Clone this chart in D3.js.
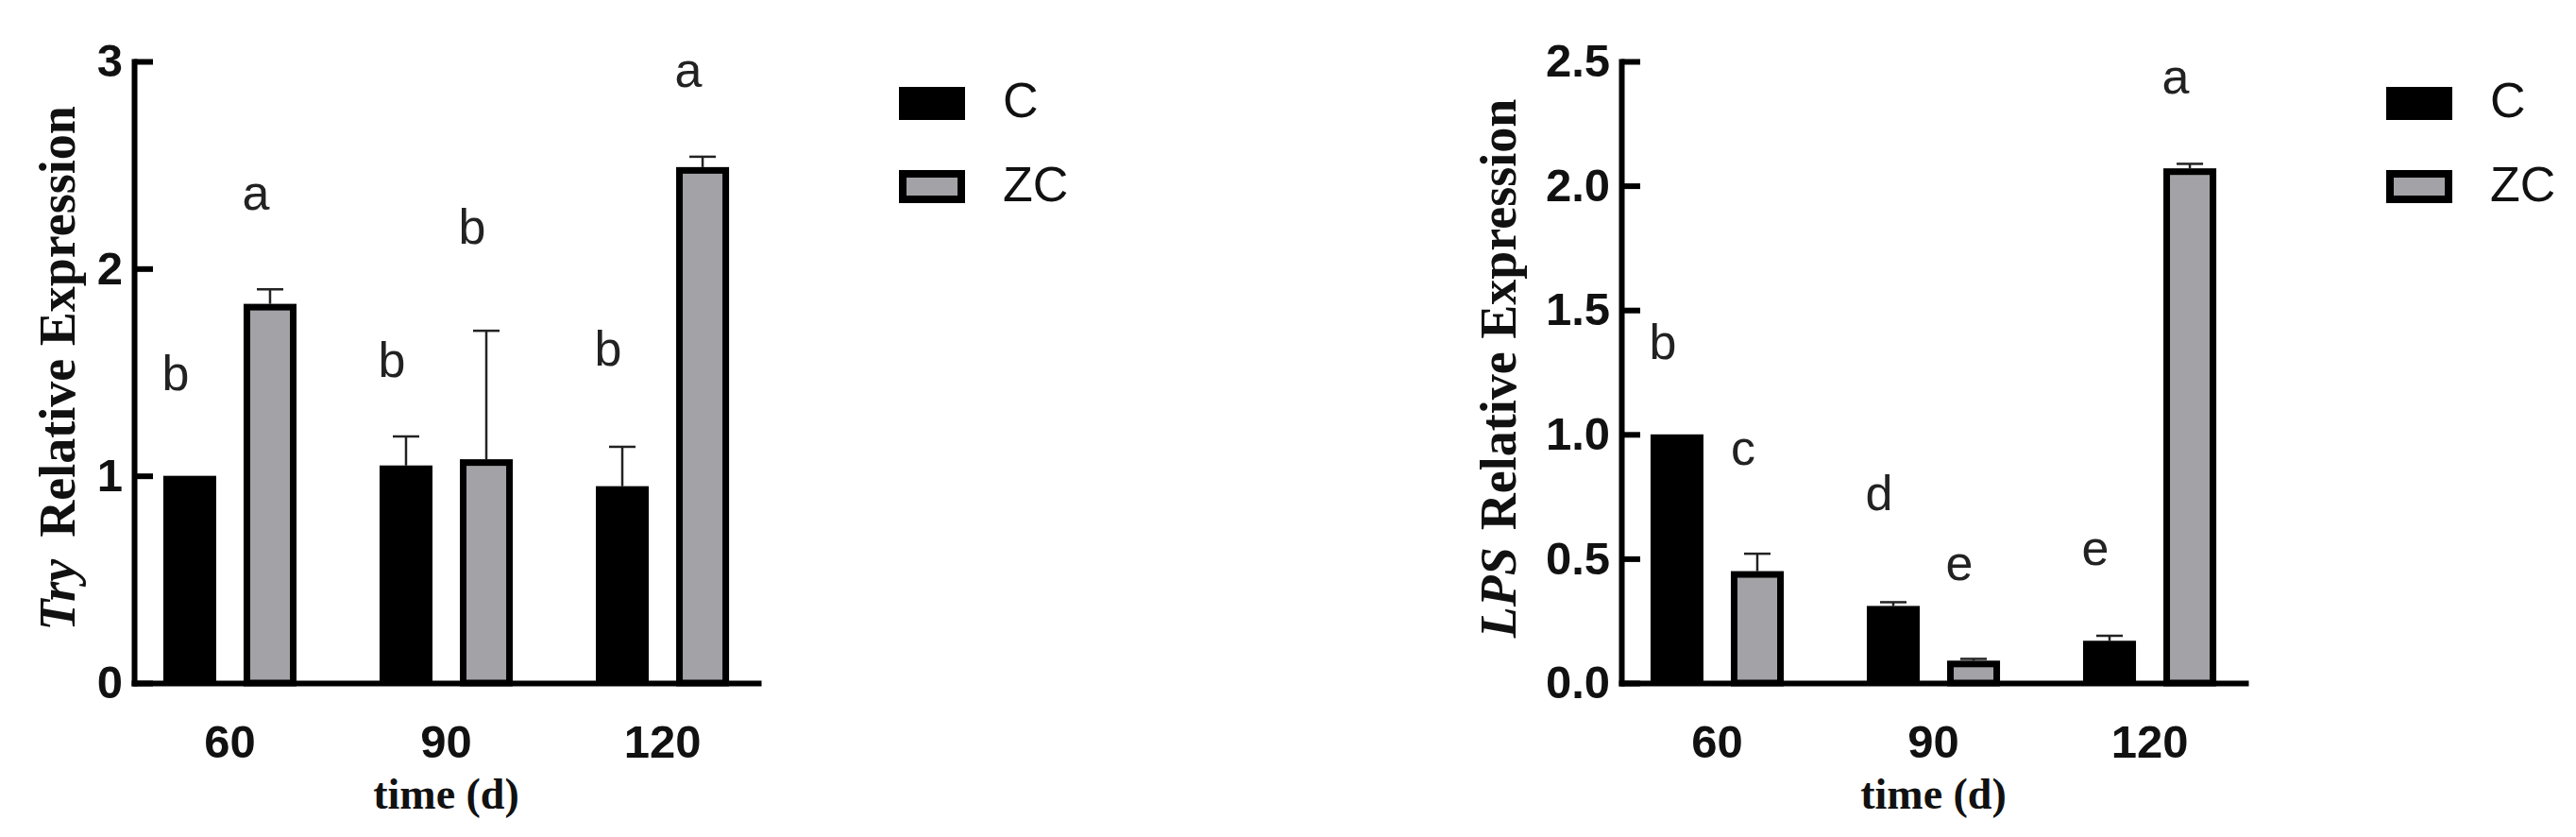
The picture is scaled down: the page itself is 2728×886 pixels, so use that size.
<!DOCTYPE html>
<html><head><meta charset="utf-8">
<script src="https://cdn.jsdelivr.net/npm/d3@7"></script>
<style>body{margin:0;background:#fff;} svg{display:block;}</style>
</head><body>
<svg id="chart" width="2728" height="886"></svg>
<script>
// ---------- data ----------
const groups = ["60", "90", "120"];
const seriesNames = ["C", "ZC"];

// Try panel
const tryC = [1.00, 1.05, 0.95];
const tryCErr = [0, 0.14, 0.19];
const tryZC = [1.83, 1.08, 2.49];
const tryZCErr = [0.07, 0.62, 0.05];
const tryCLetters = ["b", "b", "b"];
const tryCLetterY = [1.415, 1.478, 1.53];
const tryZCLetters = ["a", "b", "a"];
const tryZCLetterY = [2.283, 2.122, 2.875];
const tryTicks = [0, 1, 2, 3];

// LPS panel
const lpsC = [1.00, 0.31, 0.17];
const lpsCErr = [0, 0.015, 0.02];
const lpsZC = [0.45, 0.09, 2.07];
const lpsZCErr = [0.07, 0.007, 0.018];
const lpsCLetters = ["b", "d", "e"];
const lpsCLetterY = [1.304, 0.697, 0.475];
const lpsZCLetters = ["c", "e", "a"];
const lpsZCLetterY = [0.876, 0.414, 2.369];
const lpsTicks = [0, 0.5, 1, 1.5, 2, 2.5];

// ---------- drawing ----------
const svg = d3.select("#chart");
svg.append("rect").attr("width", 2728).attr("height", 886).attr("fill", "#fff");
const TOP = 65, BOTTOM = 723, W = 661;
const SANS = "'Liberation Sans', Arial, sans-serif";
const SERIF = "'Liberation Serif', 'Times New Roman', serif";
const GRAY = "#a3a2a7";

function panel(cfg) {
  const g = svg.append("g").attr("transform", `translate(${cfg.x},0)`);
  const x0 = d3.scaleBand().domain(groups).range([0, W]).paddingInner(0.384).paddingOuter(0.135);
  const x1 = d3.scaleBand().domain(seriesNames).range([0, x0.bandwidth()]).paddingInner(0.341).paddingOuter(0);
  const y = d3.scaleLinear().domain([0, cfg.max]).range([BOTTOM, TOP]);

  const rows = [];
  groups.forEach((grp, i) => {
    rows.push({grp, s: "C", v: cfg.c[i], e: cfg.cErr[i], l: cfg.cL[i], ly: cfg.cLY[i]});
    rows.push({grp, s: "ZC", v: cfg.zc[i], e: cfg.zcErr[i], l: cfg.zcL[i], ly: cfg.zcLY[i]});
  });
  const bw = x1.bandwidth();
  const bx = d => x0(d.grp) + x1(d.s);

  // error bars (upper only)
  const eb = g.append("g").attr("stroke", "#222").attr("stroke-width", 2.5);
  rows.filter(d => d.e > 0).forEach(d => {
    const cx = bx(d) + bw / 2;
    eb.append("line").attr("x1", cx).attr("x2", cx).attr("y1", y(d.v)).attr("y2", y(d.v + d.e));
    eb.append("line").attr("x1", cx - 14).attr("x2", cx + 14).attr("y1", y(d.v + d.e)).attr("y2", y(d.v + d.e));
  });

  // bars
  g.selectAll("rect.c").data(rows.filter(d => d.s === "C")).join("rect").attr("class", "c")
    .attr("x", d => bx(d)).attr("y", d => y(d.v))
    .attr("width", bw).attr("height", d => BOTTOM - y(d.v))
    .attr("fill", "#000");
  g.selectAll("rect.zc").data(rows.filter(d => d.s === "ZC")).join("rect").attr("class", "zc")
    .attr("x", d => bx(d) + 3.5).attr("y", d => y(d.v) + 3.5)
    .attr("width", bw - 7).attr("height", d => Math.max(0, BOTTOM - y(d.v) - 3.5))
    .attr("fill", GRAY).attr("stroke", "#000").attr("stroke-width", 7);

  // significance letters
  g.selectAll("text.letter").data(rows).join("text").attr("class", "letter")
    .attr("x", d => bx(d) + bw / 2 - 15).attr("y", d => y(d.ly))
    .attr("text-anchor", "middle").attr("font-family", SANS).attr("font-size", 52)
    .attr("fill", "#222").text(d => d.l);

  // y axis
  const ya = d3.axisLeft(y).tickValues(cfg.ticks).tickFormat(cfg.fmt)
    .tickSizeInner(-20).tickSizeOuter(0).tickPadding(12);
  const yg = g.append("g").call(ya);
  yg.select(".domain").attr("stroke", "#000").attr("stroke-width", 6).attr("stroke-linecap", "square");
  yg.selectAll(".tick line").attr("stroke", "#000").attr("stroke-width", 6);
  yg.selectAll(".tick text").attr("font-family", SANS).attr("font-size", 49)
    .attr("font-weight", "bold").attr("fill", "#111");

  // x axis
  const xa = d3.axisBottom(x0).tickSize(0).tickPadding(44);
  const xg = g.append("g").attr("transform", `translate(0,${BOTTOM})`).call(xa);
  xg.select(".domain").attr("stroke", "#000").attr("stroke-width", 6).attr("stroke-linecap", "square");
  xg.selectAll(".tick text").attr("font-family", SANS).attr("font-size", 49)
    .attr("font-weight", "bold").attr("fill", "#111");

  // x title
  g.append("text").attr("x", x0("90") + x0.bandwidth() / 2).attr("y", 856)
    .attr("text-anchor", "middle").attr("font-family", SERIF).attr("font-size", 46)
    .attr("font-weight", "bold").attr("fill", "#111").text("time (d)");

  // y title
  const t = g.append("text").attr("transform", `translate(${cfg.titleX},390) rotate(-90)`)
    .attr("text-anchor", "middle").attr("font-family", SERIF).attr("font-size", 54)
    .attr("font-weight", "bold").attr("fill", "#111");
  t.append("tspan").attr("font-style", "italic").text(cfg.gene);
  t.append("tspan").attr("dx", cfg.gap).text("Relative Expression");

  // legend
  const lg = g.append("g").attr("transform", "translate(810,0)");
  lg.append("rect").attr("x", 0).attr("y", 92).attr("width", 70).attr("height", 35).attr("fill", "#000");
  lg.append("rect").attr("x", 4).attr("y", 184).attr("width", 62).attr("height", 27)
    .attr("fill", GRAY).attr("stroke", "#000").attr("stroke-width", 8);
  lg.selectAll("text").data(seriesNames).join("text")
    .attr("x", 110).attr("y", (d, i) => i === 0 ? 106 : 195)
    .attr("dominant-baseline", "central").attr("font-family", SANS).attr("font-size", 52)
    .attr("fill", "#111").text(d => d);
}

panel({x: 142, max: 3, ticks: tryTicks, fmt: d3.format("d"),
  c: tryC, cErr: tryCErr, zc: tryZC, zcErr: tryZCErr,
  cL: tryCLetters, cLY: tryCLetterY, zcL: tryZCLetters, zcLY: tryZCLetterY,
  gene: "Try", gap: 23, titleX: -63});
panel({x: 1717, max: 2.5, ticks: lpsTicks, fmt: d3.format(".1f"),
  c: lpsC, cErr: lpsCErr, zc: lpsZC, zcErr: lpsZCErr,
  cL: lpsCLetters, cLY: lpsCLetterY, zcL: lpsZCLetters, zcLY: lpsZCLetterY,
  gene: "LPS", gap: 18, titleX: -112});
</script>
</body></html>
